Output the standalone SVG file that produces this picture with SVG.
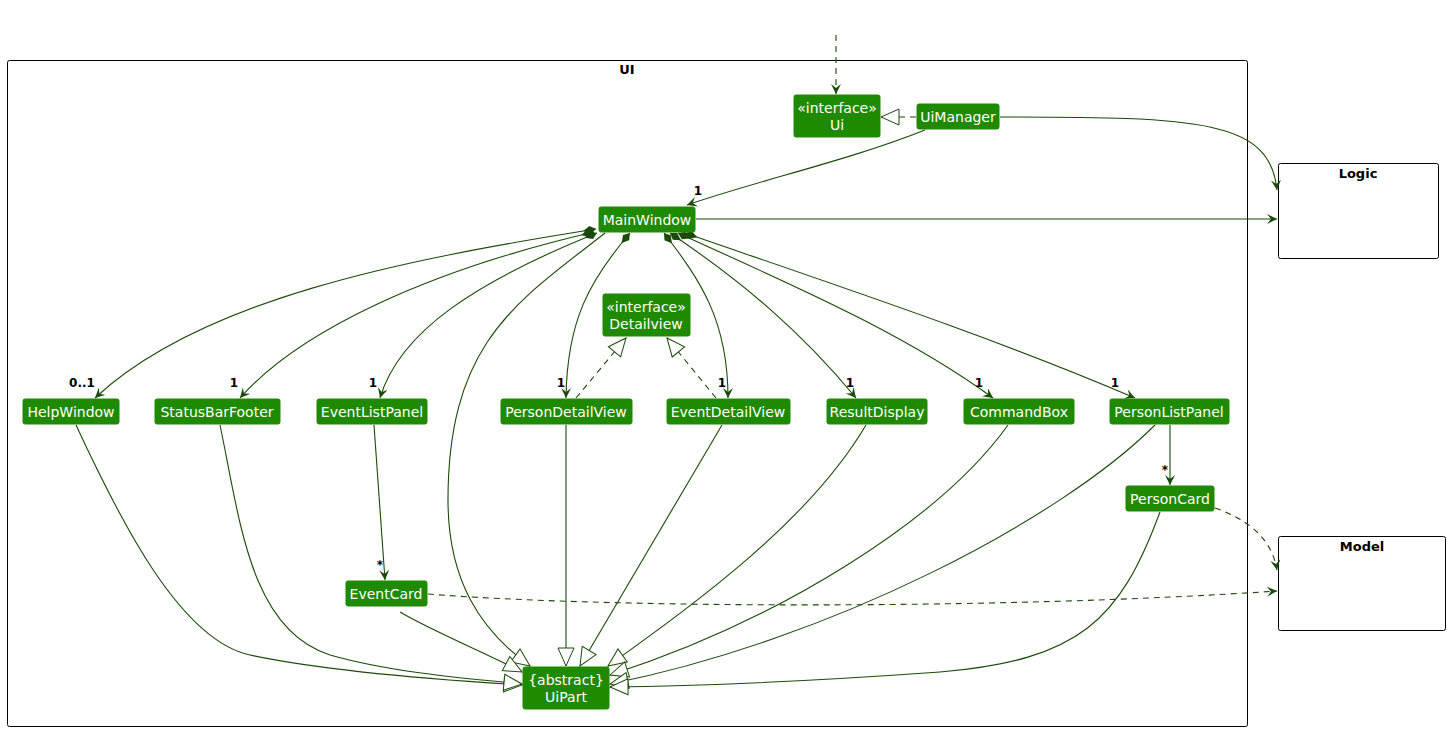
<svg xmlns="http://www.w3.org/2000/svg" width="1450" height="732" viewBox="0 0 1450 732">
<style>
.n rect{fill:#1f8a00;stroke:#1f8a00;}
.n text{fill:#fff;font-family:"DejaVu Sans",sans-serif;font-size:14px;text-anchor:middle;}
.pk{fill:none;stroke:#000;stroke-width:1;}
.pt{font-family:"DejaVu Sans",sans-serif;font-size:13px;font-weight:bold;text-anchor:middle;fill:#000;}
.c path{fill:none;stroke:#1a4a0a;stroke-width:1.1;}
.c path.d{stroke-dasharray:6,5;}
.l text{font-family:"DejaVu Sans",sans-serif;font-size:12px;font-weight:bold;fill:#000000;text-anchor:middle;}
</style>
<defs>
<marker id="a" markerWidth="12" markerHeight="12" refX="10" refY="5" orient="auto" markerUnits="userSpaceOnUse"><path d="M0,0 L10,5 L0,10 L4,5 Z" fill="#1a4a0a"/></marker>
<marker id="t" markerWidth="22" markerHeight="22" refX="19" refY="10" orient="auto" markerUnits="userSpaceOnUse"><path d="M1,2 L19,10 L1,18 Z" fill="#fff" stroke="#1a4a0a"/></marker>
<marker id="dm" markerWidth="20" markerHeight="12" refX="1" refY="5" orient="auto" markerUnits="userSpaceOnUse"><path d="M1,5 L7,1 L14,5 L7,9 Z" fill="#1a4a0a"/></marker>
</defs>
<rect class="pk" x="7.5" y="60.5" width="1240" height="666" rx="2"/>
<text class="pt" x="627" y="74">UI</text>
<g id="Logic"><rect class="pk" x="1278.5" y="163.5" width="160" height="95" rx="2"/><text class="pt" x="1358" y="178">Logic</text></g>
<g id="Model"><rect class="pk" x="1278.5" y="536.5" width="167" height="94" rx="2"/><text class="pt" x="1362" y="551">Model</text></g>
<g class="c">
<path class="d" d="M836,35 L836,94" marker-end="url(#a)"/>
<path class="d" d="M916,117 L881,117" marker-end="url(#t)"/>
<path d="M925,130 C850,160 760,180 687,205" marker-end="url(#a)"/>
<path d="M1000,117 C1200,117 1270,120 1277,190" marker-end="url(#a)"/>
<path d="M696,219 L1277,219" marker-end="url(#a)"/>
<path d="M596,229 C400,260 200,300 95,398" marker-start="url(#dm)" marker-end="url(#a)"/>
<path d="M594,232 C430,270 300,330 240,398" marker-start="url(#dm)" marker-end="url(#a)"/>
<path d="M597,233 C480,280 400,330 380,398" marker-start="url(#dm)" marker-end="url(#a)"/>
<path d="M605,233 C520,300 448,340 448,500 C448,580 480,630 530,666" marker-end="url(#t)"/>
<path d="M630,233 C590,280 567,320 566,398" marker-start="url(#dm)" marker-end="url(#a)"/>
<path d="M664,233 C700,280 728,320 728,398" marker-start="url(#dm)" marker-end="url(#a)"/>
<path d="M670,233 C740,280 800,330 856,398" marker-start="url(#dm)" marker-end="url(#a)"/>
<path d="M678,233 C780,280 900,330 993,398" marker-start="url(#dm)" marker-end="url(#a)"/>
<path d="M685,233 C850,290 1000,340 1135,398" marker-start="url(#dm)" marker-end="url(#a)"/>
<path class="d" d="M576,398 L626,338" marker-end="url(#t)"/>
<path class="d" d="M716,398 L667,338" marker-end="url(#t)"/>
<path d="M76,425 C120,520 180,640 250,655 C330,672 440,680 522,685" marker-end="url(#t)"/>
<path d="M220,425 C240,520 250,630 330,655 C390,672 460,678 522,684" marker-end="url(#t)"/>
<path d="M374,425 L385,580" marker-end="url(#a)"/>
<path d="M566,425 L566,666" marker-end="url(#t)"/>
<path d="M722,425 L580,666" marker-end="url(#t)"/>
<path d="M866,425 C810,520 700,600 608,666" marker-end="url(#t)"/>
<path d="M1008,425 C940,520 780,620 610,675" marker-end="url(#t)"/>
<path d="M1155,425 C1060,520 830,640 610,684" marker-end="url(#t)"/>
<path d="M1170,425 L1170,485" marker-end="url(#a)"/>
<path d="M1160,512 C1120,620 1080,660 940,672 C800,682 700,686 610,687" marker-end="url(#t)"/>
<path d="M400,612 C430,630 490,655 522,672" marker-end="url(#t)"/>
<path class="d" d="M428,594 C600,608 1000,610 1277,591" marker-end="url(#a)"/>
<path class="d" d="M1215,508 C1250,520 1272,540 1277,570" marker-end="url(#a)"/>
</g>
<g class="l">
<text x="698" y="195">1</text>
<text x="82" y="387">0..1</text>
<text x="234" y="387">1</text>
<text x="373" y="387">1</text>
<text x="561" y="387">1</text>
<text x="722" y="387">1</text>
<text x="850" y="387">1</text>
<text x="979" y="387">1</text>
<text x="1115" y="387">1</text>
<text x="1165" y="474" font-size="14">*</text>
<text x="380" y="569" font-size="14">*</text>
</g>
<g id="Ui" class="n"><rect x="794" y="95" width="86" height="42" rx="2"/><text x="837" y="113">«interface»</text><text x="837" y="130">Ui</text></g>
<g id="UiManager" class="n"><rect x="917" y="104" width="82" height="25" rx="2"/><text x="958" y="122">UiManager</text></g>
<g id="MainWindow" class="n"><rect x="599" y="207" width="96" height="25" rx="2"/><text x="647" y="225">MainWindow</text></g>
<g id="Detailview" class="n"><rect x="603" y="294" width="87" height="42" rx="2"/><text x="646" y="312">«interface»</text><text x="646" y="329">Detailview</text></g>
<g id="HelpWindow" class="n"><rect x="23" y="399" width="96" height="25" rx="2"/><text x="71" y="417">HelpWindow</text></g>
<g id="StatusBarFooter" class="n"><rect x="155" y="399" width="125" height="25" rx="2"/><text x="217" y="417">StatusBarFooter</text></g>
<g id="EventListPanel" class="n"><rect x="317" y="399" width="110" height="25" rx="2"/><text x="372" y="417">EventListPanel</text></g>
<g id="PersonDetailView" class="n"><rect x="501" y="399" width="131" height="25" rx="2"/><text x="566" y="417">PersonDetailView</text></g>
<g id="EventDetailView" class="n"><rect x="667" y="399" width="123" height="25" rx="2"/><text x="728" y="417">EventDetailView</text></g>
<g id="ResultDisplay" class="n"><rect x="827" y="399" width="100" height="25" rx="2"/><text x="877" y="417">ResultDisplay</text></g>
<g id="CommandBox" class="n"><rect x="964" y="399" width="110" height="25" rx="2"/><text x="1019" y="417">CommandBox</text></g>
<g id="PersonListPanel" class="n"><rect x="1110" y="399" width="119" height="25" rx="2"/><text x="1169" y="417">PersonListPanel</text></g>
<g id="PersonCard" class="n"><rect x="1126" y="486" width="88" height="25" rx="2"/><text x="1170" y="504">PersonCard</text></g>
<g id="EventCard" class="n"><rect x="346" y="581" width="81" height="25" rx="2"/><text x="386" y="599">EventCard</text></g>
<g id="UiPart" class="n"><rect x="523" y="667" width="86" height="42" rx="2"/><text x="566" y="685">{abstract}</text><text x="566" y="702">UiPart</text></g>
</svg>
